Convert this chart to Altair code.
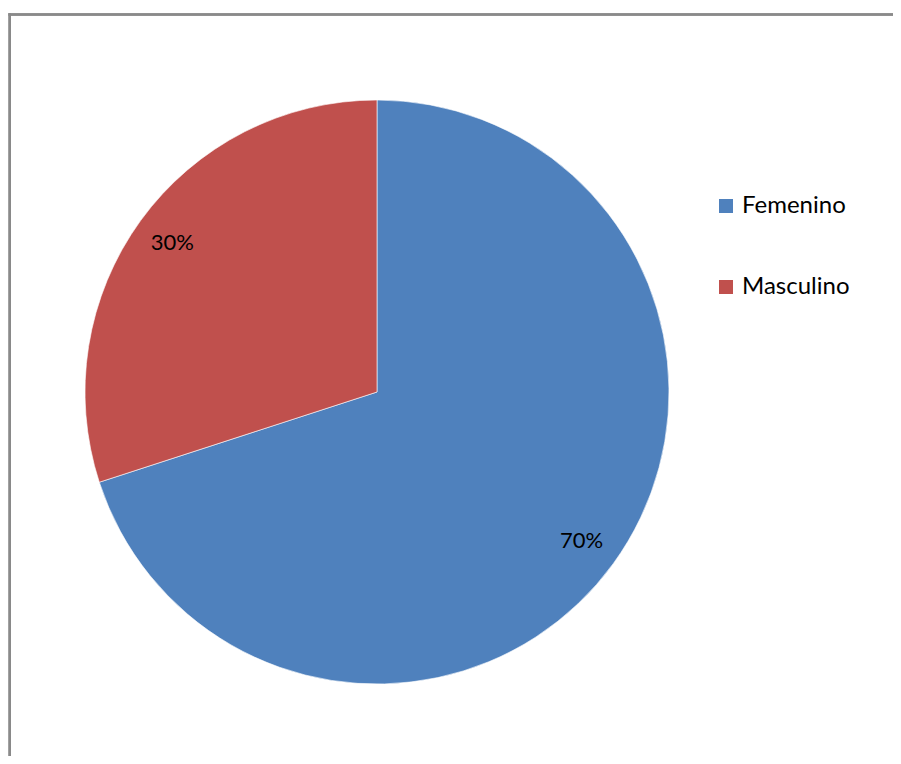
import altair as alt
import pandas as pd

categories = ["Femenino", "Masculino"]
values = [70, 30]
labels = ["70%", "30%"]
colors = ["#4F81BD", "#C0504D"]

df = pd.DataFrame({"cat": categories, "val": values, "label": labels, "ord": [0, 1]})

CX, CY = 369, 384
FONT = "Lato"

base = alt.Chart(df).encode(
    theta=alt.Theta("val:Q", stack=True),
    order=alt.Order("ord:Q"),
)

pie = base.mark_arc(outerRadius=292, stroke="white", strokeWidth=0.6).encode(
    x=alt.value(CX), y=alt.value(CY),
    color=alt.Color(
        "cat:N",
        scale=alt.Scale(domain=categories, range=colors),
        legend=alt.Legend(
            title=None, orient="none", legendX=706, legendY=186,
            symbolType="square", symbolSize=196, symbolStrokeWidth=0,
            labelFont=FONT, labelFontSize=24, labelColor="#000000",
            rowPadding=57, labelOffset=4, symbolOpacity=1,
        ),
    ),
)

text = base.mark_text(radius=253, font=FONT, fontSize=22, color="#000000").encode(
    x=alt.value(CX), y=alt.value(CY),
    text="label:N",
)

frame_top = alt.Chart(df).mark_rule(stroke="#8A8A8A", strokeWidth=2.5).encode(
    x=alt.value(0.5), x2=alt.value(1200), y=alt.value(6.5)
)
frame_left = alt.Chart(df).mark_rule(stroke="#8A8A8A", strokeWidth=2.5).encode(
    x=alt.value(1.7), y=alt.value(5.3), y2=alt.value(1200)
)

chart = alt.layer(frame_top, frame_left, pie, text).properties(
    width=885, height=748, padding=0, autosize=alt.AutoSizeParams(type="none")
).configure_view(stroke=None)

chart.save("out.html", embed_options={"renderer": "svg", "actions": False})
